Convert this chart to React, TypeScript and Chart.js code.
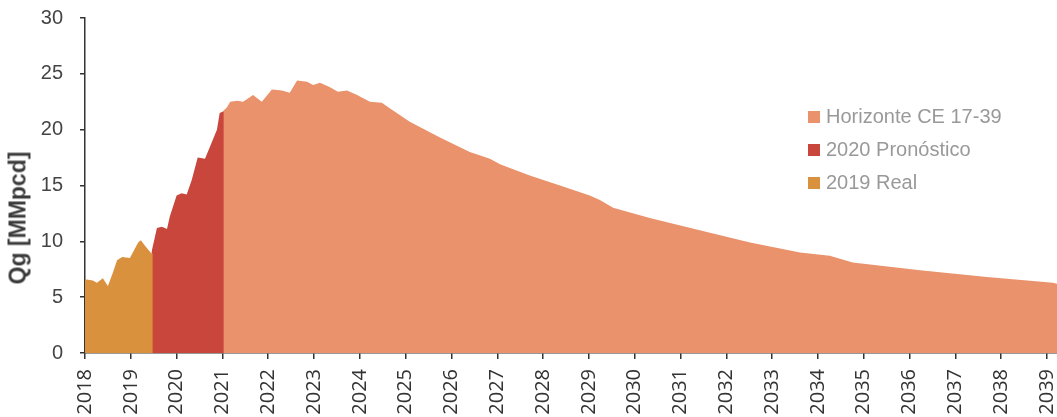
import React, { useEffect, useRef } from "react";
import { Chart, registerables } from "chart.js";

Chart.register(...registerables);

// 2019 Real (decimal years / MMpcd)
const realYears = [2018.0, 2018.17, 2018.26, 2018.39, 2018.5, 2018.61, 2018.7, 2018.81, 2018.98, 2019.07, 2019.16, 2019.22, 2019.31, 2019.45, 2019.48];
const realValues = [6.6, 6.5, 6.3, 6.7, 6.0, 7.2, 8.3, 8.6, 8.5, 9.2, 9.9, 10.1, 9.6, 8.9, 8.9];

// 2020 Pronóstico
const forecastYears = [2019.45, 2019.57, 2019.68, 2019.79, 2019.85, 2020.0, 2020.11, 2020.22, 2020.33, 2020.46, 2020.62, 2020.73, 2020.88, 2020.94, 2021.0, 2021.03];
const forecastValues = [9.0, 11.2, 11.3, 11.1, 12.2, 14.1, 14.3, 14.2, 15.5, 17.5, 17.4, 18.5, 20.0, 21.5, 21.6, 21.6];

// Horizonte CE 17-39
const horizonYears = [2021.0, 2021.1, 2021.17, 2021.32, 2021.45, 2021.67, 2021.86, 2022.08, 2022.3, 2022.47, 2022.63, 2022.85, 2022.98, 2023.13, 2023.35, 2023.52, 2023.72, 2023.94, 2024.22, 2024.48, 2024.66, 2024.88, 2025.09, 2025.75, 2026.4, 2026.84, 2027.06, 2027.71, 2028.37, 2029.02, 2029.24, 2029.53, 2030.33, 2031.42, 2032.52, 2033.61, 2034.26, 2034.76, 2036.23, 2037.69, 2039.13, 2039.22];
const horizonValues = [21.6, 22.0, 22.5, 22.6, 22.5, 23.1, 22.5, 23.6, 23.5, 23.3, 24.4, 24.3, 24.0, 24.2, 23.8, 23.4, 23.5, 23.1, 22.5, 22.4, 21.9, 21.3, 20.7, 19.3, 18.0, 17.4, 16.9, 15.9, 15.0, 14.1, 13.7, 13.0, 12.1, 11.0, 9.9, 9.0, 8.7, 8.1, 7.4, 6.8, 6.3, 6.2];

const seriesLabels = ["2019 Real", "2020 Pronóstico", "Horizonte CE 17-39"];
const seriesColors = ["#D9913E", "#C8463C", "#E9926C"];

const xMin = 2018;
const xMax = 2039.22;
const yMin = 0;
const yMax = 30;
const yStep = 5;
const yTitle = "Qg [MMpcd]";

const toPoints = (xs: number[], ys: number[]) => xs.map((x, i) => ({ x, y: ys[i] }));

export default function App() {
  const ref = useRef<HTMLCanvasElement>(null);

  useEffect(() => {
    document.body.style.margin = "0";
    const seriesX = [realYears, forecastYears, horizonYears];
    const seriesY = [realValues, forecastValues, horizonValues];
    const chart = new Chart(ref.current as HTMLCanvasElement, {
      type: "line",
      data: {
        datasets: seriesLabels.map((label, i) => ({
          label,
          data: toPoints(seriesX[i], seriesY[i]),
          backgroundColor: seriesColors[i],
          borderColor: seriesColors[i],
          borderWidth: 0,
          pointRadius: 0,
          tension: 0,
          fill: "origin",
        })),
      },
      options: {
        responsive: false,
        animation: false,
        layout: { padding: { top: 18, right: 0, left: 0, bottom: 0 } },
        plugins: { legend: { display: false }, tooltip: { enabled: false } },
        scales: {
          x: {
            type: "linear",
            min: xMin,
            max: xMax,
            ticks: {
              stepSize: 1,
              includeBounds: false,
              autoSkip: false,
              minRotation: 90,
              maxRotation: 90,
              padding: 10,
              color: "#333",
              font: { family: "'Open Sans', sans-serif", size: 20 },
              callback: (v: any) => String(v),
            },
            grid: { drawOnChartArea: false, tickLength: 6, color: "#333", lineWidth: 1.5 },
            border: { color: "#333", width: 1.5 },
            afterFit: (s: any) => {
              s.height = 64;
              s.paddingLeft = 0;
              s.paddingRight = 0;
            },
          },
          y: {
            min: yMin,
            max: yMax,
            ticks: {
              stepSize: yStep,
              padding: 17,
              color: "#444",
              font: { family: "'Liberation Sans', Arial, sans-serif", size: 20 },
            },
            grid: { drawOnChartArea: false, tickLength: 5, color: "#333", lineWidth: 1.5 },
            border: { color: "#333", width: 1.5 },
            afterFit: (s: any) => {
              s.width = 85;
              s.paddingTop = 0;
              s.paddingBottom = 0;
            },
          },
        },
      },
    } as any);
    return () => chart.destroy();
  }, []);

  const legendOrder = [2, 1, 0];

  return (
    <div style={{ position: "fixed", left: 0, top: 0, width: 1057, height: 417, background: "#fff" }}>
      <canvas ref={ref} width={1057} height={417} style={{ display: "block" }} />
      <div
        style={{
          position: "absolute",
          left: 18,
          top: 218,
          transform: "translate(-50%, -50%) rotate(-90deg)",
          fontFamily: "'Liberation Sans', Arial, sans-serif",
          fontWeight: "bold",
          fontSize: 23,
          color: "#3a3a3a",
          whiteSpace: "nowrap",
          lineHeight: 1,
        }}
      >
        {yTitle}
      </div>
      <div style={{ position: "absolute", left: 808, top: 100 }}>
        {legendOrder.map((i) => (
          <div
            key={i}
            style={{
              display: "flex",
              alignItems: "center",
              height: 33,
              fontFamily: "'Liberation Sans', Arial, sans-serif",
              fontSize: 20,
              color: "#999",
              whiteSpace: "nowrap",
            }}
          >
            <span style={{ display: "inline-block", width: 12, height: 12, background: seriesColors[i], marginRight: 6 }} />
            <span>{seriesLabels[i]}</span>
          </div>
        ))}
      </div>
    </div>
  );
}
